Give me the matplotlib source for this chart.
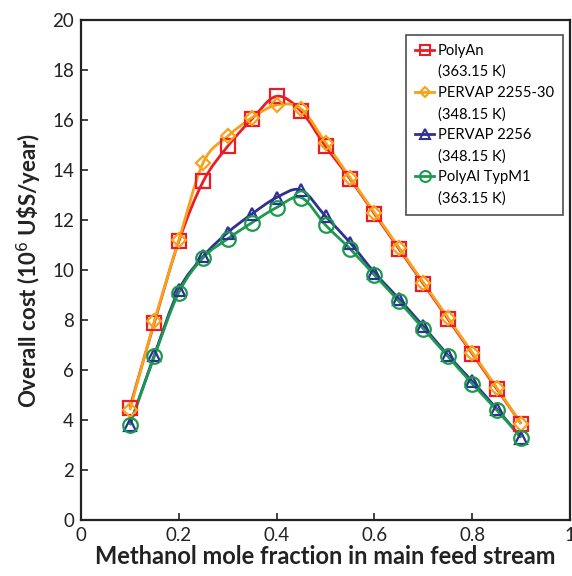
import numpy as np
import matplotlib
matplotlib.use("Agg")
import matplotlib.pyplot as plt
from matplotlib.path import Path
from matplotlib.patches import PathPatch
from matplotlib.lines import Line2D

plt.rcParams['font.family'] = ['Lato', 'DejaVu Sans']

x = [0.10, 0.15, 0.20, 0.25, 0.30, 0.35, 0.40, 0.45, 0.50, 0.55, 0.60, 0.65, 0.70, 0.75, 0.80, 0.85, 0.90]
polyan = [4.5, 7.9, 11.15, 13.55, 14.95, 16.05, 16.95, 16.35, 14.95, 13.65, 12.25, 10.85, 9.45, 8.05, 6.65, 5.25, 3.85]
pervap2255 = [4.4, 7.95, 11.2, 14.3, 15.35, 16.1, 16.6, 16.45, 15.1, 13.7, 12.3, 10.9, 9.5, 8.1, 6.7, 5.3, 3.85]
pervap2256 = [3.8, 6.6, 9.2, 10.55, 11.5, 12.25, 12.9, 13.2, 12.15, 11.1, 9.9, 8.85, 7.75, 6.6, 5.55, 4.45, 3.3]
polyal = [3.8, 6.55, 9.1, 10.5, 11.25, 11.9, 12.5, 12.9, 11.8, 10.85, 9.8, 8.75, 7.65, 6.55, 5.45, 4.4, 3.3]

names = ["PolyAn", "PERVAP 2255-30", "PERVAP 2256", "PolyAl TypM1"]
temps = ["(363.15 K)", "(348.15 K)", "(348.15 K)", "(363.15 K)"]
colors = ["#ED1C24", "#F7A21B", "#2E3192", "#1B9A4E"]
markers = ["s", "D", "^", "o"]
msizes = [10.5, 7, 9, 10.5]

fig = plt.figure(figsize=(5.72, 5.76), dpi=100)
ax = fig.add_axes([0.1416, 0.0972, 0.855, 0.868])


def smooth_path(xs, ys):
    # Catmull-Rom -> cubic Bezier path through the data points
    pts = np.column_stack([xs, ys])
    n = len(pts)
    verts = [pts[0]]
    codes = [Path.MOVETO]
    for i in range(n - 1):
        p0 = pts[i - 1] if i > 0 else pts[i]
        p1 = pts[i]
        p2 = pts[i + 1]
        p3 = pts[i + 2] if i + 2 < n else pts[i + 1]
        c1 = p1 + (p2 - p0) / 6.0
        c2 = p2 - (p3 - p1) / 6.0
        verts += [c1, c2, p2]
        codes += [Path.CURVE4] * 3
    return Path(verts, codes)


series = [polyan, pervap2255, pervap2256, polyal]
handles = []
for ys, c, m, ms, nm, tp in zip(series, colors, markers, msizes, names, temps):
    ax.add_patch(PathPatch(smooth_path(x, ys), facecolor='none', edgecolor=c, lw=2.0, zorder=3))
    ax.plot(x, ys, linestyle='none', marker=m, ms=ms, mfc='none', mec=c, mew=1.6, zorder=4)
    handles.append(Line2D([], [], color=c, lw=2.0, marker=m, ms=ms * 0.75, mfc='none', mec=c, mew=1.5, label=nm))
    handles.append(Line2D([], [], color='none', lw=0, label=tp))

ax.set_xlim(0, 1)
ax.set_ylim(0, 20)
ax.set_xticks([0, 0.2, 0.4, 0.6, 0.8, 1])
ax.set_xticklabels(["0", "0.2", "0.4", "0.6", "0.8", "1"])
ax.set_yticks(range(0, 21, 2))
ax.tick_params(direction='in', length=5, width=1.2, labelsize=13.5, colors='#222222', pad=5)
for s in ax.spines.values():
    s.set_linewidth(1.6)
    s.set_color('#222222')

ax.set_xlabel("Methanol mole fraction in main feed stream", fontsize=17, fontweight='bold', labelpad=1, color='#222222')
ax.set_ylabel("Overall cost (10$^{6}$ U\\$S/year)", fontsize=16, fontweight='bold', labelpad=6, color='#222222')

leg = ax.legend(handles=handles, loc='upper right', bbox_to_anchor=(0.9857, 0.97), fontsize=10.6,
                handlelength=1.3, handletextpad=0.25, labelspacing=0.47, borderpad=0.6, borderaxespad=0.0,
                frameon=True, fancybox=False, edgecolor='#222222')
leg.get_frame().set_linewidth(1.2)

fig.savefig("out.png", dpi=100)
